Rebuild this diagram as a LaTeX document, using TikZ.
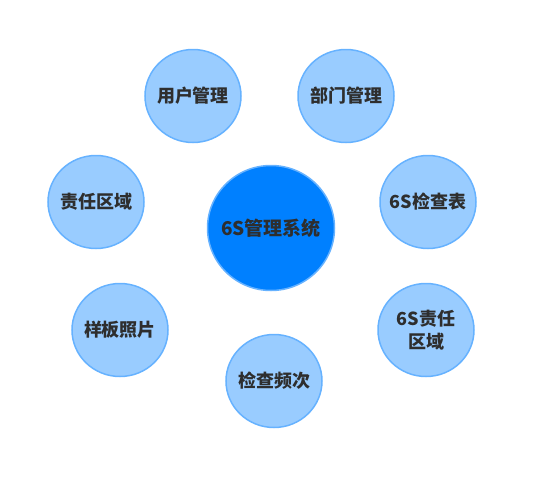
\documentclass[tikz,border=0pt]{standalone}
\usepackage{fontspec}
\newfontfamily\cjk{Noto Sans CJK SC}
\usetikzlibrary{positioning, shapes.geometric}
\definecolor{hubblue}{HTML}{0080FF}
\definecolor{leafblue}{HTML}{99CCFF}
\definecolor{rimblue}{HTML}{66B2FF}
\definecolor{txtgray}{HTML}{2E2E2E}
\begin{document}
\begin{tikzpicture}[x=1pt, y=-1pt, thick,
    hub/.style={draw=rimblue, line width=1.5pt, fill=hubblue, ellipse, minimum width=127pt, minimum height=125pt, inner xsep=-10pt, inner ysep=0pt, font=\cjk\bfseries\fontsize{19}{23}\selectfont, text=txtgray},
    leaf/.style={draw=rimblue, line width=1.5pt, fill=leafblue, ellipse, minimum width=96pt, minimum height=93pt, inner xsep=-8pt, inner ysep=0pt, font=\cjk\bfseries\fontsize{18}{23}\selectfont, text=txtgray, align=center}]
    \useasboundingbox (0,0) rectangle (542,490);
    % Centre node
    \node (S) [hub] at (271,228) {6S管理系统};  % System
    % Module nodes around it
    \node (U) [leaf] at (193,96) {用户管理};  % Users
    \node (D) [leaf] at (346,96) {部门管理};  % Departments
    \node (R) [leaf] at (96,202) {责任区域};  % Areas
    \node (C) [leaf] at (428,202) {6S检查表};  % Checklist
    \node (P) [leaf] at (120,330) {样板照片};  % Photos
    \node (A) [leaf] at (426,330) {6S责任\\区域};  % 6S areas
    \node (F) [leaf] at (274,381) {检查频次};  % Frequency
\end{tikzpicture}
\end{document}
